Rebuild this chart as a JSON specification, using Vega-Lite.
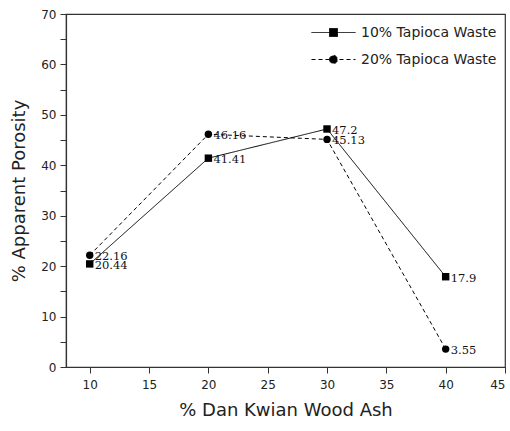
{
  "$schema": "https://vega.github.io/schema/vega-lite/v6.json",
  "autosize": "none",
  "width": 439,
  "height": 353,
  "padding": {"left": 66, "top": 14, "right": 5, "bottom": 64},
  "background": "white",
  "config": {
    "view": {"stroke": "#333", "strokeWidth": 1.2},
    "axis": {"grid": false, "domainColor": "#333", "tickColor": "#333", "labelColor": "#222", "titleColor": "#222", "labelFont": "DejaVu Sans", "titleFont": "DejaVu Sans", "titleFontWeight": "normal", "labelFontSize": 12, "titleFontSize": 18, "tickSize": 6, "domainWidth": 1.2}
  },
  "data": {"values": [
    {"ash": 10, "porosity": 20.44, "series": "10% Tapioca Waste", "label": "20.44"},
    {"ash": 20, "porosity": 41.41, "series": "10% Tapioca Waste", "label": "41.41"},
    {"ash": 30, "porosity": 47.2, "series": "10% Tapioca Waste", "label": "47.2"},
    {"ash": 40, "porosity": 17.9, "series": "10% Tapioca Waste", "label": "17.9"},
    {"ash": 10, "porosity": 22.16, "series": "20% Tapioca Waste", "label": "22.16"},
    {"ash": 20, "porosity": 46.16, "series": "20% Tapioca Waste", "label": "46.16"},
    {"ash": 30, "porosity": 45.13, "series": "20% Tapioca Waste", "label": "45.13"},
    {"ash": 40, "porosity": 3.55, "series": "20% Tapioca Waste", "label": "3.55"}
  ]},
  "encoding": {
    "x": {"field": "ash", "type": "quantitative", "scale": {"domain": [8, 45], "nice": false, "zero": false},
      "axis": {"title": "% Dan Kwian Wood Ash", "values": [10, 15, 20, 25, 30, 35, 40, 45], "labelPadding": 6, "titlePadding": 11}},
    "y": {"field": "porosity", "type": "quantitative", "scale": {"domain": [0, 70], "nice": false},
      "axis": {"title": "% Apparent Porosity", "values": [0, 5, 10, 15, 20, 25, 30, 35, 40, 45, 50, 55, 60, 65, 70], "labelExpr": "datum.value % 10 === 0 ? datum.label : ''", "labelPadding": 4, "titlePadding": 12,
        "encode": {"ticks": {"update": {"x2": {"signal": "datum.value % 10 === 0 ? -6 : -3"}}}}}}
  },
  "layer": [
    {
      "mark": {"type": "line", "color": "black", "strokeWidth": 1},
      "encoding": {
        "strokeDash": {"field": "series", "type": "nominal",
          "scale": {"domain": ["10% Tapioca Waste", "20% Tapioca Waste"], "range": [[1, 0], [4, 3]]},
          "legend": {
            "title": null, "orient": "top-right", "offset": 8,
            "labelFont": "DejaVu Sans", "labelFontSize": 14, "labelColor": "#222",
            "symbolSize": 400, "labelOffset": 29, "rowPadding": 9,
            "symbolStrokeColor": "black", "symbolStrokeWidth": 1,
            "encode": {"symbols": {"update": {
              "shape": {"signal": "datum.value === '10% Tapioca Waste' ? 'M-1,0H3.4M0.8,-0.4H1.6V0.4H0.8Z' : 'M-1,0H3.4M0.8,0A0.4,0.4 0 1,0 1.6,0A0.4,0.4 0 1,0 0.8,0Z'"},
              "fill": {"value": "black"},
              "stroke": {"value": "black"},
              "size": {"value": 400}
            }}}
          }}
      }
    },
    {
      "transform": [{"filter": "datum.series === '10% Tapioca Waste'"}],
      "mark": {"type": "point", "shape": "square", "filled": true, "color": "black", "opacity": 1, "size": 55}
    },
    {
      "transform": [{"filter": "datum.series === '20% Tapioca Waste'"}],
      "mark": {"type": "point", "shape": "circle", "filled": true, "color": "black", "opacity": 1, "size": 55}
    },
    {
      "mark": {"type": "text", "align": "left", "baseline": "middle", "dx": 5, "dy": 2, "font": "DejaVu Serif", "fontSize": 11.5, "color": "#111"},
      "encoding": {"text": {"field": "label"}}
    }
  ]
}
